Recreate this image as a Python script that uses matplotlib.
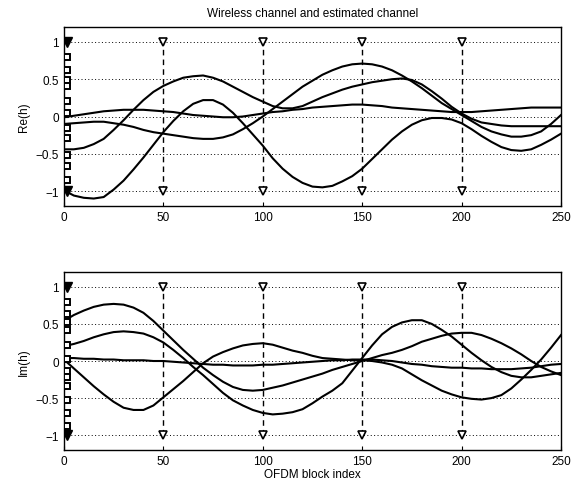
import matplotlib
matplotlib.use("Agg")
import matplotlib.pyplot as plt

plt.rcParams['font.family'] = ['Liberation Sans', 'DejaVu Sans']

# ---- data (every 5 blocks) ----
x_idx = list(range(0, 251, 5))

re_a = [-0.99, -1.06, -1.09, -1.10, -1.08, -0.98, -0.86, -0.71, -0.55, -0.38, -0.21,
        -0.06, 0.07, 0.17, 0.22, 0.22, 0.16, 0.05, -0.09, -0.24, -0.39,
        -0.56, -0.70, -0.81, -0.89, -0.94, -0.95, -0.93, -0.87, -0.80, -0.70,
        -0.57, -0.44, -0.31, -0.20, -0.11, -0.05, -0.02, -0.02, -0.04, -0.09,
        -0.17, -0.26, -0.34, -0.41, -0.45, -0.46, -0.44, -0.38, -0.31, -0.23]
re_b = [-0.10, -0.09, -0.08, -0.07, -0.07, -0.09, -0.11, -0.14, -0.18, -0.21, -0.23,
        -0.25, -0.27, -0.29, -0.30, -0.30, -0.28, -0.24, -0.17, -0.09, 0.00,
        0.10, 0.20, 0.30, 0.40, 0.48, 0.56, 0.62, 0.67, 0.70, 0.71,
        0.70, 0.67, 0.62, 0.55, 0.47, 0.38, 0.28, 0.18, 0.10, 0.02,
        -0.06, -0.14, -0.20, -0.24, -0.27, -0.27, -0.25, -0.20, -0.10, 0.02]
re_c = [-0.01, 0.01, 0.03, 0.05, 0.07, 0.08, 0.09, 0.09, 0.09, 0.08, 0.07,
        0.06, 0.04, 0.02, 0.01, 0.00, -0.01, -0.01, 0.00, 0.02, 0.04,
        0.06, 0.07, 0.09, 0.10, 0.12, 0.13, 0.14, 0.15, 0.16, 0.16,
        0.15, 0.14, 0.12, 0.11, 0.10, 0.09, 0.08, 0.07, 0.06, 0.06,
        0.06, 0.07, 0.08, 0.09, 0.10, 0.11, 0.12, 0.12, 0.12, 0.12]
re_d = [-0.44, -0.44, -0.42, -0.37, -0.30, -0.18, -0.05, 0.09, 0.22, 0.33, 0.41,
        0.47, 0.52, 0.54, 0.55, 0.52, 0.47, 0.40, 0.33, 0.26, 0.20,
        0.14, 0.11, 0.11, 0.14, 0.20, 0.26, 0.31, 0.36, 0.40, 0.43,
        0.46, 0.48, 0.50, 0.51, 0.49, 0.43, 0.34, 0.24, 0.13, 0.04,
        -0.03, -0.08, -0.10, -0.12, -0.13, -0.13, -0.13, -0.13, -0.13, -0.13]

im_a = [0.54, 0.62, 0.68, 0.73, 0.76, 0.77, 0.76, 0.72, 0.65, 0.54, 0.41,
        0.28, 0.15, 0.03, -0.09, -0.19, -0.28, -0.35, -0.39, -0.40, -0.39,
        -0.36, -0.33, -0.29, -0.25, -0.21, -0.17, -0.12, -0.08, -0.04, 0.00,
        0.04, 0.08, 0.11, 0.15, 0.20, 0.26, 0.30, 0.34, 0.37, 0.38,
        0.38, 0.35, 0.30, 0.24, 0.17, 0.09, 0.00, -0.08, -0.14, -0.19]
im_b = [0.20, 0.23, 0.27, 0.32, 0.36, 0.39, 0.40, 0.39, 0.37, 0.32, 0.25,
        0.15, 0.04, -0.08, -0.19, -0.31, -0.43, -0.53, -0.60, -0.66, -0.70,
        -0.72, -0.71, -0.69, -0.65, -0.57, -0.48, -0.40, -0.30, -0.13, 0.04,
        0.21, 0.36, 0.46, 0.52, 0.55, 0.55, 0.50, 0.42, 0.33, 0.22,
        0.11, 0.01, -0.08, -0.15, -0.20, -0.22, -0.22, -0.20, -0.18, -0.16]
im_c = [0.04, 0.04, 0.03, 0.03, 0.02, 0.02, 0.01, 0.01, 0.01, 0.00, 0.00,
        -0.01, -0.02, -0.03, -0.04, -0.05, -0.05, -0.06, -0.06, -0.06, -0.05,
        -0.05, -0.04, -0.03, -0.02, -0.01, 0.00, 0.01, 0.01, 0.02, 0.02,
        0.02, 0.01, 0.00, -0.02, -0.04, -0.05, -0.07, -0.08, -0.09, -0.09,
        -0.10, -0.10, -0.11, -0.11, -0.11, -0.10, -0.09, -0.07, -0.05, -0.04]
im_d = [0.02, -0.10, -0.22, -0.34, -0.45, -0.55, -0.63, -0.66, -0.66, -0.60, -0.49,
        -0.38, -0.27, -0.15, -0.03, 0.06, 0.12, 0.17, 0.21, 0.23, 0.24,
        0.22, 0.18, 0.14, 0.11, 0.07, 0.04, 0.03, 0.02, 0.01, 0.01,
        0.00, -0.02, -0.05, -0.10, -0.18, -0.26, -0.33, -0.40, -0.45, -0.49,
        -0.51, -0.52, -0.50, -0.46, -0.37, -0.25, -0.12, 0.02, 0.18, 0.35]

pilot_x = [50, 100, 150, 200]
start_x = 1.5
re_squares = [0.80, 0.63, 0.49, 0.41, 0.21, 0.05, -0.16, -0.29, -0.51, -0.67, -0.85]
im_squares = [0.80, 0.64, 0.53, 0.42, 0.22, 0.03, -0.13, -0.21, -0.34, -0.53, -0.70, -0.87]

xticks = [0, 50, 100, 150, 200, 250]
yticks = [-1, -0.5, 0, 0.5, 1]
yticklabels = ['\u22121', '\u22120.5', '0', '0.5', '1']

fig = plt.figure(figsize=(5.81, 4.89), dpi=100)
ax1 = fig.add_axes([0.110, 0.5767, 0.8556, 0.3660])
ax2 = fig.add_axes([0.110, 0.0777, 0.8556, 0.3640])


def style(ax, squares, ylabel):
    for y in yticks:
        ax.plot([0, 250], [y, y], color='black', linestyle=(0, (1, 2.5)), lw=0.7, zorder=1)
    for px in pilot_x:
        ax.plot([px, px], [-1, 1], color='black', linestyle=(0, (4, 3)), lw=1.0, zorder=2)
        ax.plot([px, px], [-1, 1], linestyle='none', marker='v', markersize=6,
                markerfacecolor='white', markeredgecolor='black', markeredgewidth=1.2, zorder=4)
    ax.plot([start_x, start_x], [-1, 1], linestyle='none', marker='v', markersize=7,
            color='black', zorder=4)
    ax.plot([start_x] * len(squares), squares, linestyle='none', marker='s', markersize=4,
            markerfacecolor='white', markeredgecolor='black', markeredgewidth=1.4, zorder=4)
    ax.set_xlim(0, 250)
    ax.set_ylim(-1.2, 1.2)
    ax.set_xticks(xticks)
    ax.set_yticks(yticks)
    ax.set_yticklabels(yticklabels)
    ax.tick_params(direction='in', length=3, labelsize=8.5, width=0.8)
    for s in ax.spines.values():
        s.set_linewidth(1.0)
    ax.set_ylabel(ylabel, fontsize=8.5, labelpad=4)


for ax, series in [(ax1, [re_a, re_b, re_c, re_d]), (ax2, [im_a, im_b, im_c, im_d])]:
    for s in series:
        ax.plot(x_idx, s, color='black', lw=1.5, zorder=3)

style(ax1, re_squares, 'Re(h)')
style(ax2, im_squares, 'Im(h)')
ax1.set_title('Wireless channel and estimated channel', fontsize=8.5, pad=8)
ax2.set_xlabel('OFDM block index', fontsize=8.5, labelpad=1)

fig.savefig('out.png', dpi=100)
